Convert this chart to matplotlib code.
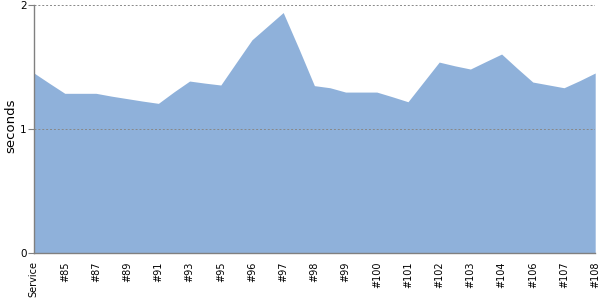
import numpy as np
import matplotlib
matplotlib.use("Agg")
import matplotlib.pyplot as plt

# build labels (only every second point is labelled)
labels = ["Service", "#85", "#87", "#89", "#91", "#93", "#95", "#96", "#97",
          "#98", "#99", "#100", "#101", "#102", "#103", "#104", "#106", "#107", "#108"]

# seconds per point
seconds = [1.454, 1.37, 1.288, 1.288, 1.288, 1.265, 1.245, 1.225, 1.207, 1.30,
           1.387, 1.37, 1.355, 1.538, 1.72, 1.83, 1.94, 1.65, 1.35, 1.333,
           1.298, 1.298, 1.298, 1.26, 1.22, 1.38, 1.54, 1.51, 1.484, 1.545,
           1.605, 1.49, 1.379, 1.356, 1.333, 1.39, 1.452]

fill_color = "#8FB1DA"
axis_color = "#808080"

fig = plt.figure(figsize=(6, 3), dpi=100)
ax = fig.add_axes([0.056, 0.157, 0.936, 0.826])

x = np.arange(len(seconds))
ax.fill_between(x, 0, seconds, color=fill_color, linewidth=0, zorder=1)

ax.set_xlim(0, len(seconds) - 1)
ax.set_ylim(0, 2)
ax.set_yticks([0, 1, 2])
ax.set_xticks(x[::2])
ax.set_xticklabels(labels, rotation=90, fontsize=7)
ax.tick_params(axis="x", length=0, pad=6)
ax.tick_params(axis="y", labelsize=7.5, length=4, color=axis_color, pad=1)

# dashed horizontal grid on top of the area
for yv in [1, 2]:
    ax.axhline(yv, color="#888888", linestyle=(0, (2, 2)), linewidth=0.7, zorder=3)

for s in ["top", "right"]:
    ax.spines[s].set_visible(False)
for s in ["left", "bottom"]:
    ax.spines[s].set_color(axis_color)
    ax.spines[s].set_linewidth(1)
    ax.spines[s].set_zorder(4)

ax.set_ylabel("seconds", fontsize=9.5)
ax.yaxis.set_label_coords(-0.041, 0.515)
ax.yaxis.label.set_va("center")

fig.savefig("out.png", dpi=100)
